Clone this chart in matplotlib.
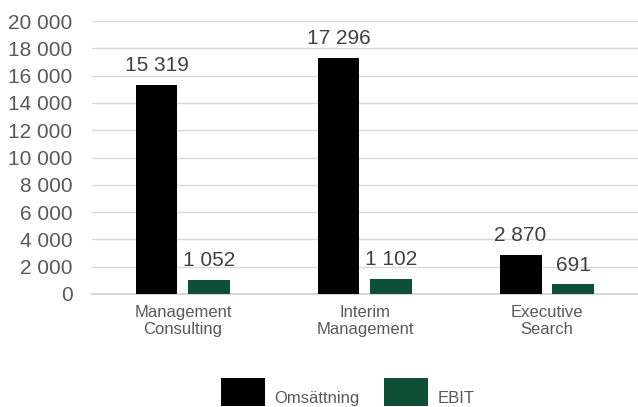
import matplotlib.pyplot as plt
import numpy as np

categories = ["Management\nConsulting", "Interim\nManagement", "Executive\nSearch"]
series = ["Omsättning", "EBIT"]
omsattning = [15319, 17296, 2870]
ebit = [1052, 1102, 691]
y_ticks = [0, 2000, 4000, 6000, 8000, 10000, 12000, 14000, 16000, 18000, 20000]

plt.rcParams["font.family"] = ["Liberation Sans", "DejaVu Sans"]


def fmt(v):
    return f"{v:,}".replace(",", " ")


fig = plt.figure(figsize=(6.38, 4.07), dpi=100)
ax = fig.add_axes([0.144, 0.278, 0.856, 0.67])

x = np.arange(len(categories))
width = 0.23
b1 = ax.bar(x - 0.145, omsattning, width, color="#000000", label="\n" + series[0], zorder=3)
b2 = ax.bar(x + 0.145, ebit, width, color="#0f4f38", label="\n" + series[1], zorder=3)

ax.bar_label(b1, labels=[fmt(v) for v in omsattning], padding=7, fontsize=15, color="#404040")
ax.bar_label(b2, labels=[fmt(v) for v in ebit], padding=7, fontsize=15, color="#404040")

ax.set_xlim(-0.5, 2.5)
ax.set_ylim(0, 20000)
ax.set_yticks(y_ticks)
ax.set_yticklabels([fmt(v) for v in y_ticks], fontsize=15, color="#595959")
ax.set_xticks(x)
ax.set_xticklabels(categories, fontsize=12, color="#595959", linespacing=1.15)
ax.tick_params(axis="both", length=0)
ax.tick_params(axis="y", pad=14)
ax.tick_params(axis="x", pad=8)

ax.grid(axis="y", color="#d9d9d9", linewidth=1.0, zorder=0)
for side in ["top", "right", "left"]:
    ax.spines[side].set_visible(False)
ax.spines["bottom"].set_color("#d0d0d0")
ax.spines["bottom"].set_linewidth(1.2)

leg = fig.legend(
    loc="lower center",
    bbox_to_anchor=(0.545, -0.035),
    ncol=2,
    frameon=False,
    fontsize=12,
    handlelength=2.65,
    handleheight=2.2,
    handletextpad=0.55,
    columnspacing=1.45,
)
for t in leg.get_texts():
    t.set_color("#595959")
    t.set_linespacing(1.0)

fig.savefig("out.png", dpi=100)
